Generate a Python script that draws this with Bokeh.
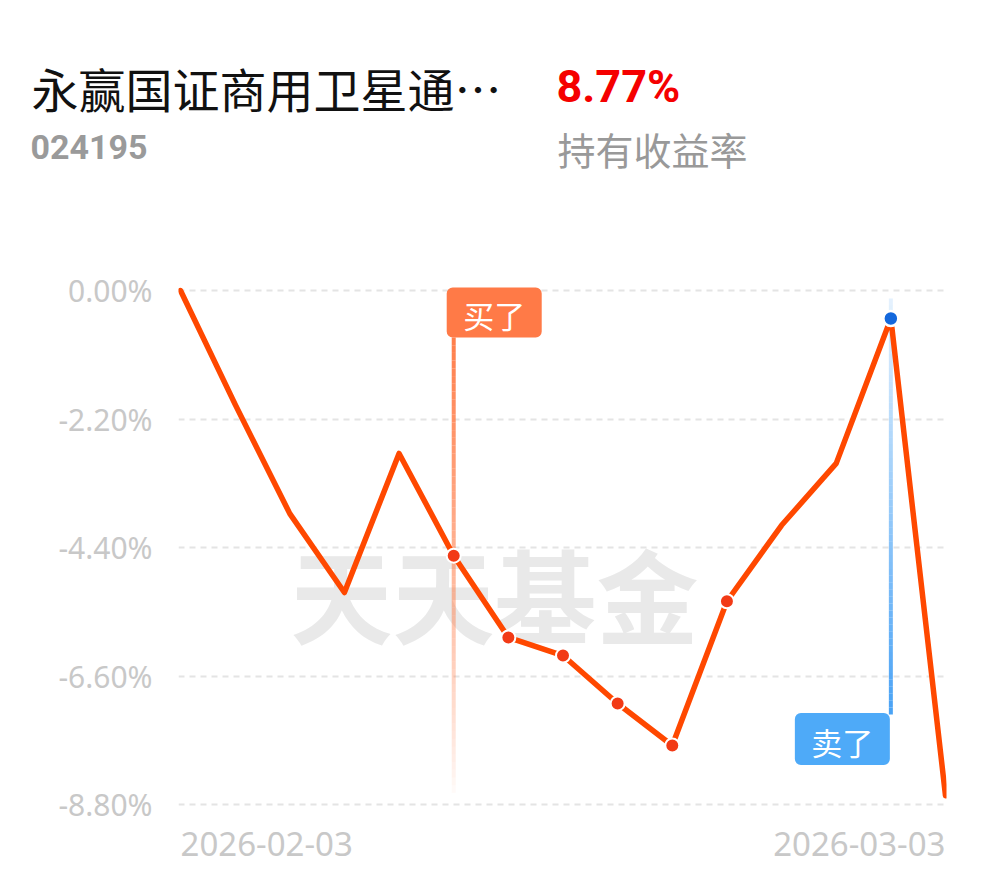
import numpy as np
from bokeh.plotting import figure
from bokeh.layouts import column
from bokeh.models import Range1d, FixedTicker, Label
from bokeh.embed import file_html
from bokeh.resources import INLINE

# ---------------- data ----------------
fund_name = "永赢国证商用卫星通…"
fund_code = "024195"
hold_return = "8.77%"
hold_return_label = "持有收益率"
watermark = "天天基金"

date_labels = ["2026-02-03", "2026-03-03"]
returns = [0.00, -1.95, -3.82, -5.17, -2.79, -4.54, -5.94, -6.25,
           -7.07, -7.79, -5.32, -4.02, -2.96, -0.48, -8.65]
y_ticks = [0.00, -2.20, -4.40, -6.60, -8.80]
y_tick_labels = ["0.00%", "-2.20%", "-4.40%", "-6.60%", "-8.80%"]
buy_index = 5
sell_index = 13
buy_text = "买了"
sell_text = "卖了"

idx = list(range(len(returns)))

# ---------------- layout (screen px) ----------------
W, H = 988, 876
HA = 200                          # header height
frame_l, frame_r = 178, 946
x0_px, x1_px = 180, 945           # first / last point
y0_px, y1_px = 290, 804           # 0.00% / -8.80%
ppx_x = (x1_px - x0_px) / (len(returns) - 1)
ppx_y = (y1_px - y0_px) / (y_ticks[0] - y_ticks[-1])


def sx(px):
    return (px - x0_px) / ppx_x


def sy(py):
    return y_ticks[0] - (py - y0_px) / ppx_y


# ---------------- header figure ----------------
h = figure(width=W, height=HA, output_backend="svg", toolbar_location=None,
           x_range=Range1d(0, W), y_range=Range1d(HA, 0),
           min_border=0, frame_align=False)
h.axis.visible = False
h.grid.visible = False
h.outline_line_color = None
h.add_layout(Label(x=31, y=87, text=fund_name, text_align="left",
                   text_baseline="middle", text_font="Noto Sans CJK SC",
                   text_font_size="47px", text_color="#111111"))
h.add_layout(Label(x=30, y=146, text=fund_code, text_align="left",
                   text_baseline="middle", text_font="Roboto",
                   text_font_style="bold", text_font_size="34px",
                   text_color="#9a9a9a"))
h.add_layout(Label(x=556, y=86, text=hold_return, text_align="left",
                   text_baseline="middle", text_font="Roboto",
                   text_font_style="bold", text_font_size="45px",
                   text_color="#f50000"))
h.add_layout(Label(x=557, y=148, text=hold_return_label,
                   text_align="left", text_baseline="middle",
                   text_font="Noto Sans CJK SC", text_font_size="38px",
                   text_color="#999999"))

# ---------------- chart figure ----------------
p = figure(width=W, height=H - HA, output_backend="svg", toolbar_location=None,
           x_range=Range1d(sx(frame_l), sx(frame_r)),
           y_range=Range1d(sy(H), sy(HA)),
           min_border_left=frame_l, min_border_right=W - frame_r,
           min_border_top=0, min_border_bottom=0, frame_align=False)
p.outline_line_color = None
p.background_fill_color = "white"
p.border_fill_color = "white"

p.xaxis.visible = False
p.xgrid.visible = False
p.yaxis.ticker = FixedTicker(ticks=y_ticks)
p.yaxis.major_label_overrides = {t: l for t, l in zip(y_ticks, y_tick_labels)}
p.yaxis.axis_line_color = None
p.yaxis.major_tick_line_color = None
p.yaxis.minor_tick_line_color = None
p.yaxis.major_label_standoff = 20
p.yaxis.major_label_text_font = "Noto Sans"
p.yaxis.major_label_text_font_size = "30px"
p.yaxis.major_label_text_color = "#c8c8c8"
p.ygrid.ticker = FixedTicker(ticks=y_ticks)
p.ygrid.grid_line_color = "#e4e4e4"
p.ygrid.grid_line_width = 2
p.ygrid.grid_line_dash = "6 5"

# watermark
p.add_layout(Label(x=sx(494), y=sy(592), text=watermark, text_align="center",
                   text_baseline="middle", text_font="Noto Sans CJK SC",
                   text_font_style="bold", text_font_size="102px",
                   text_color="#e9e9e9", level="image"))

# buy marker gradient line
n = 60
ys = np.linspace(sy(337), sy(800), n + 1)
p.segment(x0=[buy_index] * n, y0=ys[:-1], x1=[buy_index] * n, y1=ys[1:],
          line_color="#ff7a45", line_width=4,
          line_alpha=np.linspace(0.95, 0.0, n) ** 0.8)
# sell marker gradient line
ys2 = np.linspace(sy(298), sy(714), n + 1)
p.segment(x0=[sell_index] * n, y0=ys2[:-1], x1=[sell_index] * n, y1=ys2[1:],
          line_color="#4aa3f5", line_width=4,
          line_alpha=np.linspace(0.15, 1.0, n))

# main line
p.line(idx, returns, line_color="#ff4800", line_width=5.5, line_join="round",
       line_cap="round")

# holding-period dots
hold_idx = [i for i in idx if buy_index <= i <= 10]
p.scatter(hold_idx, [returns[i] for i in hold_idx], size=14,
          fill_color="#f23a16", line_color="white", line_width=2)
p.scatter([sell_index], [returns[sell_index]], size=15,
          fill_color="#1468dc", line_color="white", line_width=2.5)

# buy / sell tags
buy_cx = buy_index + sx(491.5) - sx(451)
sell_cx = sell_index + sx(839.5) - sx(888)
p.rect(x=[buy_cx], y=[sy(312)], width=95, height=50,
       width_units="screen", height_units="screen", fill_color="#ff7a47",
       line_color=None, border_radius=6)
p.rect(x=[sell_cx], y=[sy(738.5)], width=95, height=52,
       width_units="screen", height_units="screen", fill_color="#4eaaf8",
       line_color=None, border_radius=6)
p.add_layout(Label(x=buy_cx, y=sy(314), text=buy_text,
                   text_align="center", text_baseline="middle",
                   text_font="Noto Sans CJK SC", text_font_size="31px",
                   text_color="white"))
p.add_layout(Label(x=sell_cx, y=sy(741), text=sell_text,
                   text_align="center", text_baseline="middle",
                   text_font="Noto Sans CJK SC", text_font_size="31px",
                   text_color="white"))

# date labels
p.add_layout(Label(x=0, y=sy(843), text=date_labels[0], text_align="left",
                   text_baseline="middle", text_font="Noto Sans",
                   text_font_size="33px", text_color="#c8c8c8"))
p.add_layout(Label(x=len(returns) - 1, y=sy(843), text=date_labels[1],
                   text_align="right", text_baseline="middle",
                   text_font="Noto Sans", text_font_size="33px",
                   text_color="#c8c8c8"))

open("out.html", "w").write(file_html(column(h, p, spacing=0), INLINE))
